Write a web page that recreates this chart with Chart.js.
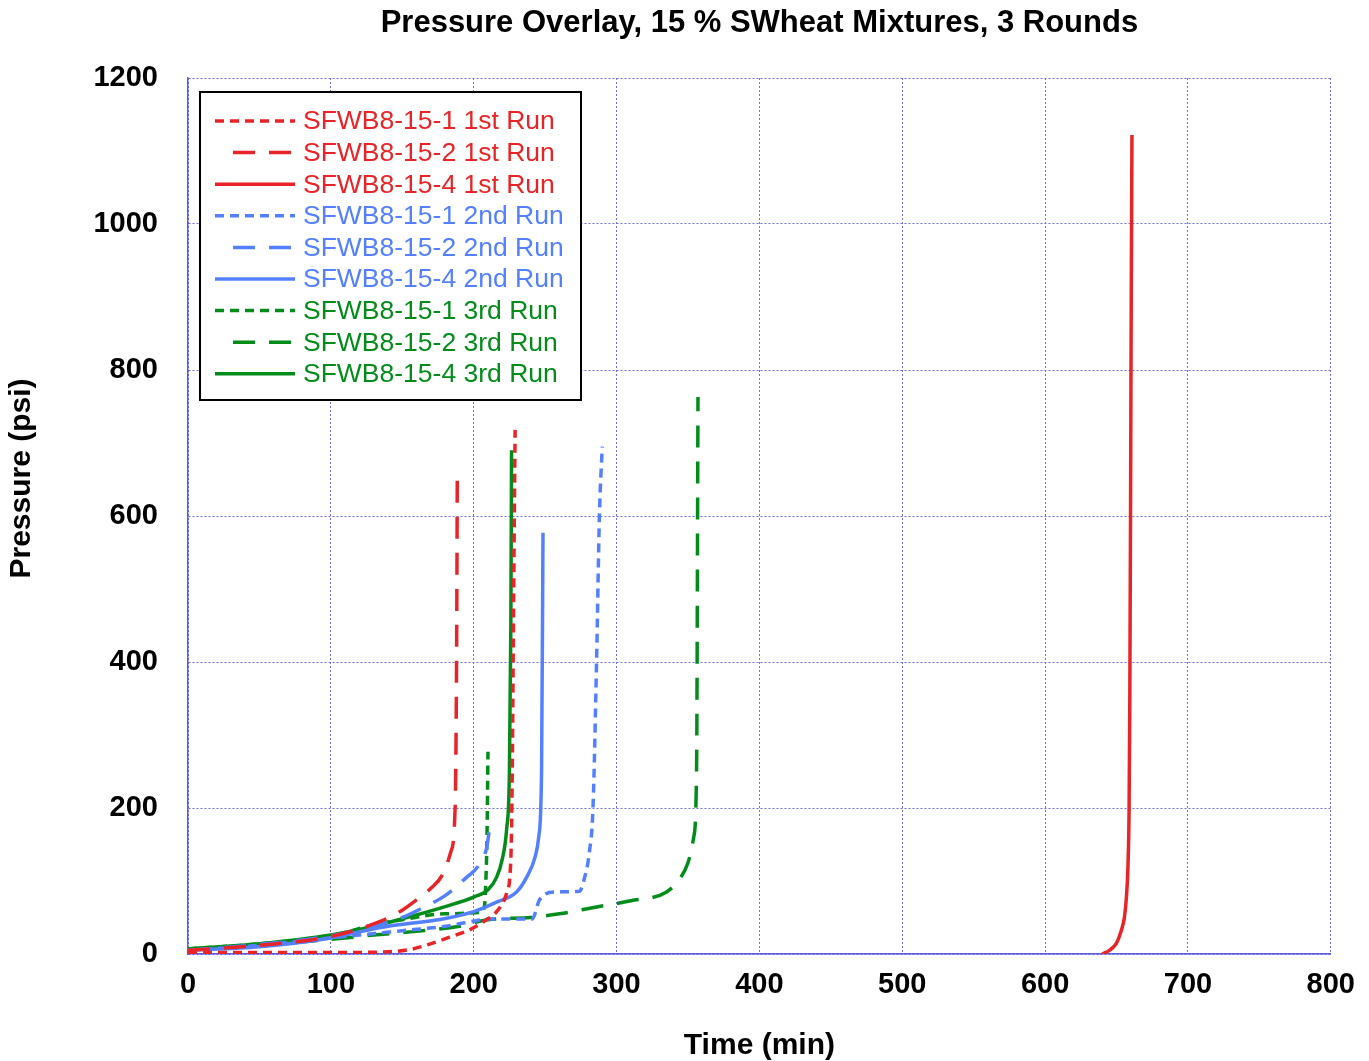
<!DOCTYPE html>
<html>
<head>
<meta charset="utf-8">
<script src="https://cdn.jsdelivr.net/npm/chart.js@4.4.1/dist/chart.umd.min.js"></script>
<style>
  html, body { margin: 0; padding: 0; background: #fff; }
  #wrap { width: 1369px; height: 1061px; }
</style>
</head>
<body>
<div id="wrap"><canvas id="grafico" width="1369" height="1061"></canvas></div>
<script>
// Dados (tempo em min, pressão em psi)
const rotulos = [
  'SFWB8-15-1 1st Run', 'SFWB8-15-2 1st Run', 'SFWB8-15-4 1st Run',
  'SFWB8-15-1 2nd Run', 'SFWB8-15-2 2nd Run', 'SFWB8-15-4 2nd Run',
  'SFWB8-15-1 3rd Run', 'SFWB8-15-2 3rd Run', 'SFWB8-15-4 3rd Run'
];

// 1st Run
const tempo1_1 = [0, 50, 100, 140, 155, 165, 183, 197, 209, 216, 223, 226, 227, 228, 229];
const press1_1 = [2, 2, 2, 3, 6, 11, 23, 33, 47, 58, 83, 130, 250, 500, 718];
const tempo1_2 = [0, 50, 100, 135, 150, 160, 170, 178, 184, 187, 188, 188.5];
const press1_2 = [5, 12, 24, 45, 60, 74, 90, 108, 140, 200, 400, 650];
const tempo1_4 = [640, 645, 650, 653, 655.5, 657, 658, 658.8, 659.3, 659.8, 660.3, 660.8];
const press1_4 = [0, 5, 15, 30, 50, 80, 120, 200, 350, 600, 900, 1122];

// 2nd Run
const tempo2_1 = [0, 50, 100, 150, 180, 200, 210, 241, 246, 257, 274, 277, 281, 283.5, 286, 288, 290];
const press2_1 = [5, 12, 22, 32, 38, 45, 48, 48, 74, 85, 86, 100, 140, 200, 400, 600, 695];
const tempo2_2 = [0, 50, 100, 130, 150, 165, 180, 195, 203, 209, 211];
const press2_2 = [5, 13, 25, 38, 50, 64, 80, 105, 120, 145, 170];
const tempo2_4 = [0, 50, 100, 134, 181, 200, 216, 230, 237, 243, 245.5, 247.5, 248.5];
const press2_4 = [5, 10, 22, 36, 49, 58, 71, 85, 105, 133, 160, 250, 577];

// 3rd Run
const tempo3_1 = [0, 50, 100, 130, 150, 180, 205, 207.5, 208.5, 209.3, 210];
const press3_1 = [7, 14, 25, 40, 47, 55, 57, 65, 100, 160, 277];
const tempo3_2 = [0, 50, 100, 130, 160, 190, 210, 240, 260, 285, 310, 335, 345, 350, 354, 356, 357];
const press3_2 = [7, 12, 20, 26, 31, 38, 47, 50, 55, 64, 73, 85, 105, 125, 160, 250, 763];
const tempo3_4 = [0, 50, 100, 130, 157, 180, 200, 210, 216, 220, 223, 225, 226, 226.5];
const press3_4 = [7, 14, 26, 38, 52, 65, 78, 88, 105, 130, 170, 250, 450, 690];

const ticksX = [0, 100, 200, 300, 400, 500, 600, 700, 800];
const ticksY = [0, 200, 400, 600, 800, 1000, 1200];

const VERMELHO = 'rgb(232, 36, 40)';
const AZUL = 'rgb(84, 128, 255)';
const VERDE = 'rgb(4, 140, 26)';

const TRACO_CURTO = [9, 6];
const TRACO_LONGO = [22, 14];

function pontos(tempos, pressoes) {
  return tempos.map((t, i) => ({ x: t, y: pressoes[i] }));
}

function serie(idx, tempos, pressoes, cor, traco) {
  return {
    label: rotulos[idx],
    data: pontos(tempos, pressoes),
    borderColor: cor,
    backgroundColor: cor,
    borderWidth: 3.5,
    borderDash: traco,
    pointRadius: 0,
    cubicInterpolationMode: 'monotone',
    fill: false
  };
}

const datasets = [
  serie(0, tempo1_1, press1_1, VERMELHO, TRACO_CURTO),
  serie(1, tempo1_2, press1_2, VERMELHO, TRACO_LONGO),
  serie(2, tempo1_4, press1_4, VERMELHO, []),
  serie(3, tempo2_1, press2_1, AZUL, TRACO_CURTO),
  serie(4, tempo2_2, press2_2, AZUL, TRACO_LONGO),
  serie(5, tempo2_4, press2_4, AZUL, []),
  serie(6, tempo3_1, press3_1, VERDE, TRACO_CURTO),
  serie(7, tempo3_2, press3_2, VERDE, TRACO_LONGO),
  serie(8, tempo3_4, press3_4, VERDE, [])
];

// Legenda desenhada dentro da área do gráfico, com caixa preta
const legendaCaixa = {
  id: 'legendaCaixa',
  afterDatasetsDraw(chart) {
    const ctx = chart.ctx;
    const x0 = 200, y0 = 92, w = 381, h = 308;
    ctx.save();
    ctx.fillStyle = '#fff';
    ctx.fillRect(x0, y0, w, h);
    ctx.lineWidth = 2;
    ctx.strokeStyle = '#000';
    ctx.strokeRect(x0, y0, w, h);
    ctx.font = '26.5px "Liberation Sans", Arial, sans-serif';
    ctx.textBaseline = 'middle';
    chart.data.datasets.forEach((ds, i) => {
      const y = 121 + i * 31.6;
      const longo = ds.borderDash.length && ds.borderDash[0] > 15;
      ctx.beginPath();
      ctx.setLineDash(ds.borderDash);
      ctx.lineWidth = 3.5;
      ctx.strokeStyle = ds.borderColor;
      ctx.moveTo(longo ? 233 : 215, y);
      ctx.lineTo(295, y);
      ctx.stroke();
      ctx.setLineDash([]);
      ctx.fillStyle = ds.borderColor;
      ctx.fillText(ds.label, 303, y + 1);
    });
    ctx.restore();
  }
};

const fonteEixo = { family: '"Liberation Sans", Arial, sans-serif', weight: 'bold', size: 29 };
const fonteTitulo = { family: '"Liberation Sans", Arial, sans-serif', weight: 'bold', size: 30, lineHeight: 1 };
const corGrade = 'rgb(110, 110, 235)';

const ctx = document.getElementById('grafico').getContext('2d');
new Chart(ctx, {
  type: 'line',
  data: { datasets: datasets },
  options: {
    responsive: false,
    animation: false,
    layout: { padding: { top: 0, left: 0, right: 38, bottom: 0 } },
    plugins: {
      legend: { display: false },
      tooltip: { enabled: false },
      title: {
        display: true,
        text: 'Pressure Overlay, 15 % SWheat Mixtures, 3 Rounds',
        fullSize: false,
        color: '#000',
        font: { family: '"Liberation Sans", Arial, sans-serif', weight: 'bold', size: 31, lineHeight: 1.2 },
        padding: { top: 5, bottom: 35.8 }
      }
    },
    scales: {
      x: {
        type: 'linear',
        min: 0,
        max: 800,
        afterBuildTicks: (escala) => { escala.ticks = ticksX.map(v => ({ value: v })); },
        afterFit: (escala) => { escala.height = 107; },
        ticks: { color: '#000', font: fonteEixo, padding: 14, maxRotation: 0, callback: (v) => String(v) },
        grid: { color: corGrade, lineWidth: 1, drawTicks: false },
        border: { display: true, color: 'rgb(90, 90, 220)', width: 1.5, dash: [2, 2] },
        title: { display: true, text: 'Time (min)', color: '#000', font: fonteTitulo, padding: { top: 0, bottom: 0 } }
      },
      y: {
        type: 'linear',
        min: 0,
        max: 1200,
        afterBuildTicks: (escala) => { escala.ticks = ticksY.map(v => ({ value: v })); },
        afterFit: (escala) => { escala.width = 188; },
        ticks: { color: '#000', font: fonteEixo, padding: 30, callback: (v) => String(v) },
        grid: { color: corGrade, lineWidth: 1, drawTicks: false },
        border: { display: true, color: 'rgb(90, 90, 220)', width: 1.5, dash: [2, 2] },
        title: { display: true, text: '         Pressure (psi)', color: '#000', font: fonteTitulo, padding: { top: 7, bottom: 0 } }
      }
    }
  },
  plugins: [legendaCaixa]
});
</script>
</body>
</html>
